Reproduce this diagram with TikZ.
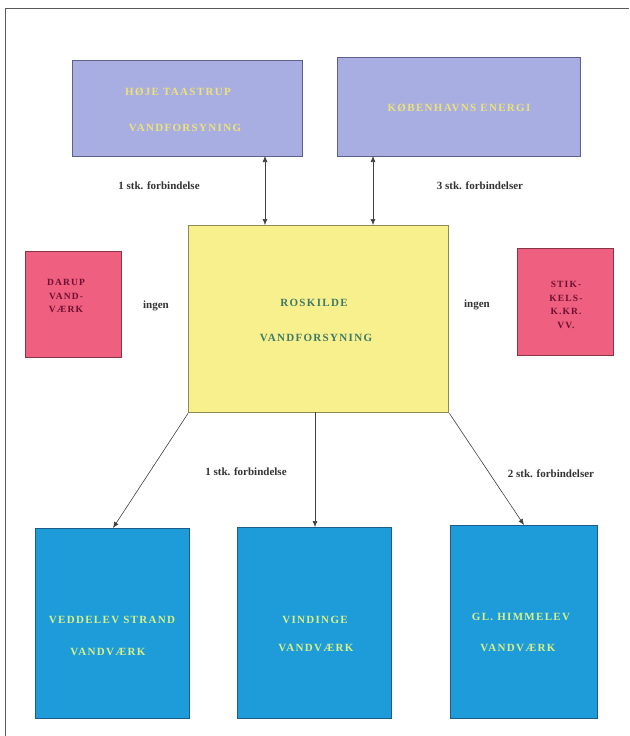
\documentclass[tikz,border=0pt]{standalone}
\usepackage{fontspec}
\setmainfont{Liberation Serif}
\newfontfamily\capsfont[LetterSpace=12]{Liberation Serif}
\usetikzlibrary{arrows.meta}
\definecolor{lav}{HTML}{A9AEE2}
\definecolor{lavb}{HTML}{5E6088}
\definecolor{yel}{HTML}{F8F08C}
\definecolor{yelb}{HTML}{8C8A55}
\definecolor{redf}{HTML}{EE5F80}
\definecolor{redb}{HTML}{8A3448}
\definecolor{blu}{HTML}{1E9CDA}
\definecolor{blub}{HTML}{1C5C88}
\definecolor{toptxt}{HTML}{ECE27A}
\definecolor{midtxt}{HTML}{3E7A68}
\definecolor{redtxt}{HTML}{6E1030}
\definecolor{blutxt}{HTML}{D6F088}
\definecolor{lbl}{HTML}{333333}
\tikzset{
  box/.style={draw, line width=1.4pt, inner sep=0pt, anchor=north west},
  boxtext/.style={font=\capsfont\bfseries\fontsize{11}{12}\selectfont, inner sep=0pt},
  redtext/.style={font=\capsfont\bfseries\fontsize{9.5}{13.5}\selectfont, text=redtxt, align=center, inner sep=0pt},
  lab/.style={font=\bfseries\fontsize{11}{12}\selectfont, text=lbl, inner sep=0pt},
  conn/.style={draw=black!75, line width=0.6pt},
  tip/.style={-{Latex[length=6pt,width=5pt]}},
  tips/.style={{Latex[length=6pt,width=5pt]}-{Latex[length=6pt,width=5pt]}}
}
\begin{document}
\begin{tikzpicture}[x=1pt,y=-1pt]
\useasboundingbox (0,0) rectangle (629,736);
\fill[white] (0,0) rectangle (629,736);
\draw[black!65, line width=1pt] (5,736) -- (5,8) -- (629,8);
% top boxes
\node[box, fill=lav, draw=lavb, minimum width=230pt, minimum height=96pt] (hoeje) at (72,60) {};
\node[box, fill=lav, draw=lavb, minimum width=243pt, minimum height=99pt] (kbh) at (337,57) {};
% centre
\node[box, fill=yel, draw=yelb, minimum width=260pt, minimum height=187pt] (rosk) at (188,225) {};
% red
\node[box, fill=redf, draw=redb, minimum width=96pt, minimum height=106pt] (darup) at (25,251) {};
\node[box, fill=redf, draw=redb, minimum width=96pt, minimum height=107pt] (stik) at (517,248) {};
% blue
\node[box, fill=blu, draw=blub, minimum width=154pt, minimum height=190pt] (vedd) at (35,528) {};
\node[box, fill=blu, draw=blub, minimum width=154pt, minimum height=191pt] (vind) at (237,527) {};
\node[box, fill=blu, draw=blub, minimum width=147pt, minimum height=193pt] (himm) at (450,525) {};
% texts
\node[boxtext, text=toptxt] (t1a) at (178,92) {HØJE TAASTRUP};
\node[boxtext, text=toptxt] (t1b) at (185,128) {VANDFORSYNING};
\node[boxtext, text=toptxt] (t2) at (459,108) {KØBENHAVNS ENERGI};
\node[boxtext, text=midtxt] (t3a) at (314,303) {ROSKILDE};
\node[boxtext, text=midtxt] (t3b) at (316,338) {VANDFORSYNING};
\node[redtext] (t4) at (66,296) {DARUP\\VAND-\\VÆRK};
\node[redtext] (t5) at (566,305) {STIK-\\KELS-\\K.KR.\\VV.};
\node[boxtext, text=blutxt] (t6a) at (112,620) {VEDDELEV STRAND};
\node[boxtext, text=blutxt] (t6b) at (108,652) {VANDVÆRK};
\node[boxtext, text=blutxt] (t7a) at (315,620) {VINDINGE};
\node[boxtext, text=blutxt] (t7b) at (316,648) {VANDVÆRK};
\node[boxtext, text=blutxt] (t8a) at (521,617) {GL. HIMMELEV};
\node[boxtext, text=blutxt] (t8b) at (518,648) {VANDVÆRK};
% connectors
\coordinate (a1) at (265,156);
\coordinate (a2) at (265,225);
\coordinate (b1) at (373,156);
\coordinate (b2) at (373,225);
\draw[conn, tips] (a1) -- (a2);
\draw[conn, tips] (b1) -- (b2);
\coordinate (d1) at (113,528);
\draw[conn, tip] (rosk.south west) -- (d1);
\coordinate (c1) at (315,412);
\coordinate (c2) at (315,527);
\draw[conn, tip] (c1) -- (c2);
\coordinate (e1) at (524,525);
\draw[conn, tip] (rosk.south east) -- (e1);
% labels
\node[lab] (l1) at (159,186) {1 stk. forbindelse};
\node[lab] (l2) at (480,186) {3 stk. forbindelser};
\node[lab] (l3) at (156,306) {ingen};
\node[lab] (l4) at (477,305) {ingen};
\node[lab] (l5) at (246,472) {1 stk. forbindelse};
\node[lab] (l6) at (551,474) {2 stk. forbindelser};
\end{tikzpicture}
\end{document}
